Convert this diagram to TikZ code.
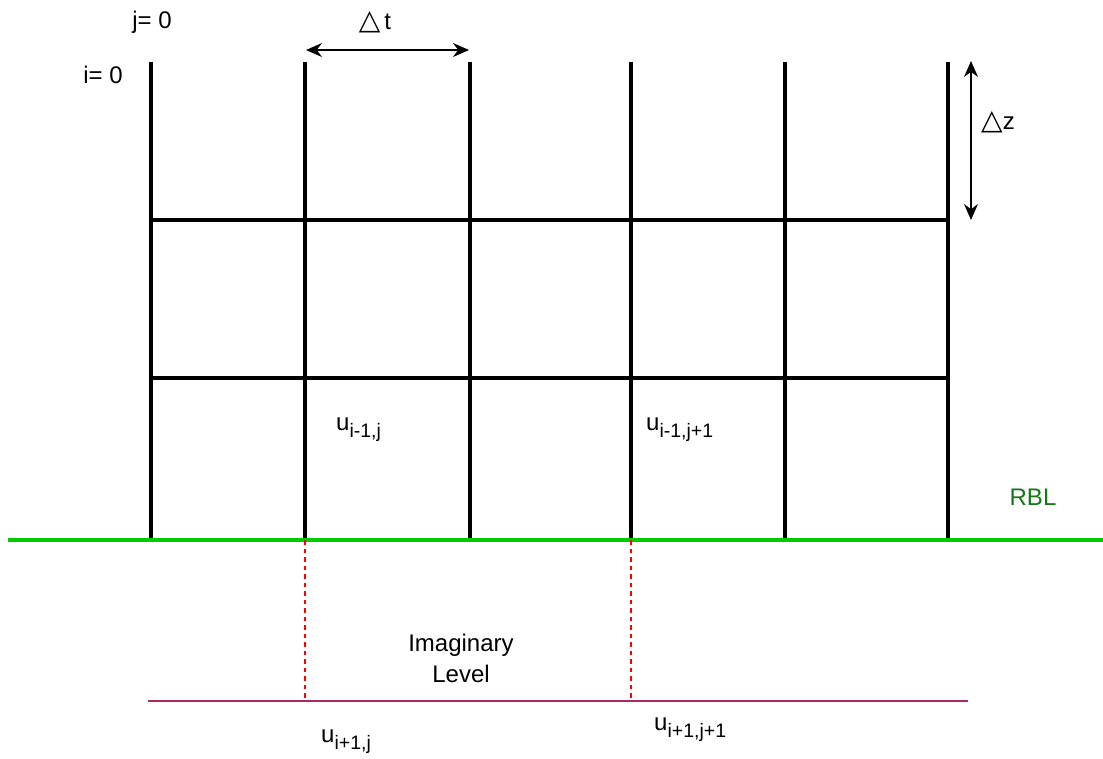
\documentclass[tikz,border=0pt]{standalone}
\usepackage{fontspec}
\setmainfont{Liberation Sans}
\newfontfamily\symfont{DejaVu Sans}
\usetikzlibrary{arrows.meta}
\definecolor{rblgreen}{RGB}{0,204,0}
\definecolor{rbltext}{RGB}{20,120,20}
\definecolor{imagline}{RGB}{170,40,100}
\newcommand{\bigtxt}{\fontsize{24}{29}\selectfont}
\newcommand{\tri}{{\symfont\fontsize{28}{30}\selectfont △}}
\newcommand{\ulab}[1]{{\fontsize{24}{28}\selectfont u}\raisebox{-7pt}{\fontsize{19.5}{22}\selectfont #1}}
\begin{document}
\begin{tikzpicture}[x=1pt,y=-1pt,
  gridline/.style={line width=3.4pt, black},
  dimarrow/.style={line width=1.6pt, black, {Stealth[length=16pt,width=14pt]}-{Stealth[length=16pt,width=14pt]}},
  lbl/.style={inner sep=0pt, font=\bigtxt, text=black},
  ulbl/.style={inner sep=0pt, anchor=west, text=black}]
\useasboundingbox (0,0) rectangle (1103,758);
\fill[white] (0,0) rectangle (1103,758);
% grid coordinates
\foreach \n/\x in {0/151,1/305,2/470,3/631,4/785,5/948}{
  \coordinate (t\n) at (\x,62);
  \coordinate (b\n) at (\x,540);
}
\coordinate (h1l) at (151,220); \coordinate (h1r) at (948,220);
\coordinate (h2l) at (151,378); \coordinate (h2r) at (948,378);
% vertical lines
\foreach \n in {0,...,5}{ \draw[gridline] (t\n) -- (b\n); }
% horizontal lines
\draw[gridline] (h1l) -- (h1r);
\draw[gridline] (h2l) -- (h2r);
% RBL line
\coordinate (gl) at (8,540); \coordinate (gr) at (1103,540);
\draw[line width=3.8pt, rblgreen] (gl) -- (gr);
% imaginary level line
\coordinate (pl) at (148,701); \coordinate (pr) at (968,701);
\draw[line width=2.8pt, imagline] (pl) -- (pr);
% dashed red
\coordinate (d1) at (305,701); \coordinate (d3) at (631,701);
\draw[red, line width=1.6pt, dash pattern=on 4.5pt off 4pt] (b1) -- (d1);
\draw[red, line width=1.6pt, dash pattern=on 4.5pt off 4pt] (b3) -- (d3);
% dimension arrows
\coordinate (at1) at (306,50); \coordinate (at2) at (469,50);
\draw[dimarrow] (at1) -- (at2);
\coordinate (az1) at (971,61); \coordinate (az2) at (971,220);
\draw[dimarrow] (az1) -- (az2);
% labels
\node[lbl] (j0) at (152,22) {j= 0};
\node[lbl] (i0) at (103,75) {i= 0};
\node[lbl] (dt) at (375,22) {\tri\,t};
\node[lbl] (dz) at (998,122) {\tri z};
\node[lbl, text=rbltext] (rbl) at (1033,497) {RBL};
\node[lbl, align=center, font=\fontsize{24}{31}\selectfont] (imag) at (461,658) {Imaginary\\Level};
\node[ulbl] (u1) at (336,430) {\ulab{i-1,j}};
\node[ulbl] (u2) at (646,430) {\ulab{i-1,j+1}};
\node[ulbl] (u3) at (321,742) {\ulab{i+1,j}};
\node[ulbl] (u4) at (654,730) {\ulab{i+1,j+1}};
\end{tikzpicture}
\end{document}
